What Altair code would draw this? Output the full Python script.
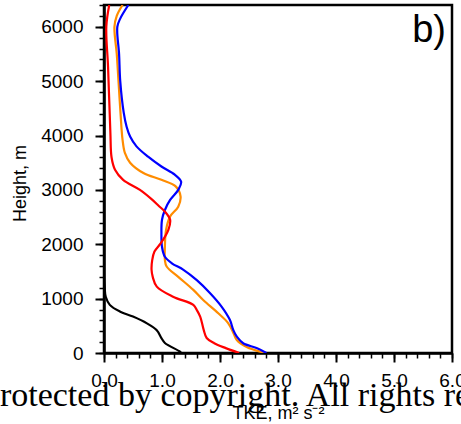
import altair as alt
import pandas as pd

# ---- data ----
black_h = [0, 25, 185, 275, 420, 545, 670, 760, 885, 1035, 1220, 1400, 2000, 3000, 4000, 5000, 6000, 6400]
black_tke = [1.33, 1.31, 1.05, 0.99, 0.91, 0.74, 0.50, 0.28, 0.10, 0.03, 0.01, 0.0, 0.0, 0.0, 0.0, 0.0, 0.0, 0.0]

red_h = [0, 90, 180, 275, 420, 665, 790, 885, 1035, 1220, 1400, 1530, 1700, 1865, 2020, 2265, 2450, 2600,
         2700, 2830, 3000, 3185, 3370, 3600, 4050, 5260, 6000, 6400]
red_tke = [2.33, 2.10, 1.90, 1.77, 1.72, 1.66, 1.60, 1.54, 1.19, 0.91, 0.84, 0.82, 0.83, 0.87, 0.98, 1.11,
           1.14, 1.05, 0.95, 0.82, 0.62, 0.33, 0.19, 0.13, 0.11, 0.07, 0.04, 0.09]

orange_h = [0, 110, 240, 370, 550, 730, 975, 1160, 1400, 1590, 1710, 1960, 2265, 2510, 2690, 2880, 3060, 3185,
            3310, 3500, 3680, 3920, 4160, 5000, 5500, 6000, 6200, 6400]
orange_tke = [2.78, 2.46, 2.29, 2.23, 2.14, 1.97, 1.71, 1.54, 1.28, 1.08, 1.05, 1.05, 1.07, 1.14, 1.28, 1.32,
              1.24, 0.99, 0.68, 0.45, 0.36, 0.32, 0.30, 0.25, 0.22, 0.18, 0.22, 0.32]

blue_h = [0, 90, 180, 300, 420, 610, 850, 1100, 1340, 1530, 1650, 1770, 1950, 2200, 2450, 2630, 2815, 3000,
          3150, 3280, 3430, 3610, 3800, 3980, 4160, 4420, 5000, 5500, 6000, 6150, 6400]
blue_tke = [2.80, 2.63, 2.40, 2.29, 2.23, 2.17, 2.03, 1.83, 1.60, 1.37, 1.17, 1.05, 1.00, 0.99, 1.00, 1.05,
            1.14, 1.28, 1.33, 1.22, 0.99, 0.76, 0.56, 0.45, 0.39, 0.34, 0.28, 0.26, 0.23, 0.28, 0.42]

series = [
    ("black", black_h, black_tke, "#000000"),
    ("orange", orange_h, orange_tke, "#ff8c00"),
    ("blue", blue_h, blue_tke, "#0000ff"),
    ("red", red_h, red_tke, "#ff0000"),
]

x_major = [0, 1, 2, 3, 4, 5, 6]
x_minor = [i / 5 for i in range(31)]
y_major = [0, 1000, 2000, 3000, 4000, 5000, 6000]
y_minor = list(range(0, 6401, 200))

panel_label = "b)"
watermark = "Protected by copyright. All rights reserved."

xscale = alt.Scale(domain=[0, 6], nice=False, zero=False)
yscale = alt.Scale(domain=[0, 6400], nice=False, zero=False)

FONT = "Liberation Sans"

major_x_axis = alt.Axis(
    orient="bottom", values=x_major, format=".1f", title="TKE, m² s⁻²",
    labelFont=FONT, labelFontSize=19, labelColor="black", labelPadding=9,
    tickSize=9, tickWidth=2, tickColor="black", domainWidth=2.5, domainColor="black",
    grid=False, titleFont=FONT, titleFontSize=18, titleFontWeight="normal", titleColor="black",
    titleX=174, titleY=65, titleBaseline="alphabetic", titleAlign="center",
    labelFlush=False, labelOverlap=False,
)
major_y_axis = alt.Axis(
    orient="left", values=y_major, format="d", title="Height, m",
    labelFont=FONT, labelFontSize=19, labelColor="black", labelPadding=12,
    tickSize=9, tickWidth=2, tickColor="black", domainWidth=2.5, domainColor="black",
    grid=False, titleFont=FONT, titleFontSize=18, titleFontWeight="normal", titleColor="black",
    titleX=-79, titleY=178, titleAngle=-90, titleBaseline="alphabetic", titleAlign="center",
    labelFlush=False, labelOverlap=False,
)
minor_x_axis = alt.Axis(
    orient="bottom", values=x_minor, labels=False, title=None, tickSize=5, tickWidth=1.5,
    tickColor="black", domain=False, grid=False,
)
minor_y_axis = alt.Axis(
    orient="left", values=y_minor, labels=False, title=None, tickSize=5, tickWidth=1.5,
    tickColor="black", domain=False, grid=False,
)

layers = []
for i, (name, hs, ts, color) in enumerate(series):
    df = pd.DataFrame({"h": hs, "tke": ts})
    if i == 0:
        xa, ya = minor_x_axis, minor_y_axis
    elif i == 1:
        xa, ya = major_x_axis, major_y_axis
    else:
        xa, ya = None, None
    enc = dict(
        x=alt.X("tke:Q", scale=xscale, axis=xa),
        y=alt.Y("h:Q", scale=yscale, axis=ya),
        order=alt.Order("h:Q"),
    )
    layers.append(
        alt.Chart(df).mark_line(color=color, strokeWidth=2.2, interpolate="catmull-rom", clip=True).encode(**enc)
    )

label_layer = alt.Chart(pd.DataFrame({"t": [panel_label]})).mark_text(
    font=FONT, fontSize=38, align="right", baseline="alphabetic", color="black"
).encode(text="t:N", x=alt.value(342), y=alt.value(37))

wm_layer = alt.Chart(pd.DataFrame({"t": [watermark]})).mark_text(
    font="Liberation Serif", fontSize=34, align="left", baseline="alphabetic", color="black"
).encode(text="t:N", x=alt.value(-123), y=alt.value(401))

chart = alt.layer(*layers, label_layer, wm_layer).resolve_axis(x="independent", y="independent").properties(
    width=348, height=348,
    autosize=alt.AutoSizeParams(type="none"),
    padding={"left": 104, "top": 5, "right": 9, "bottom": 71},
    background="white",
).configure_view(stroke="black", strokeWidth=2.5)

chart.save("out.html", embed_options={"renderer": "svg", "actions": False})
